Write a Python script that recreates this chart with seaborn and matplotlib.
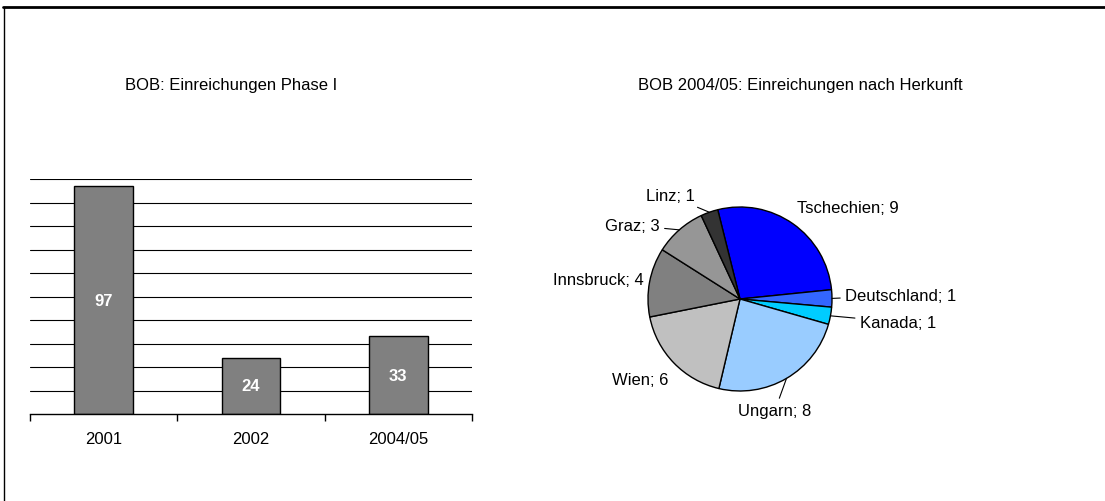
# plot.py
# BOB submissions: bar chart per year and pie chart by origin

import numpy as np
import pandas as pd
import matplotlib
matplotlib.use("Agg")
import matplotlib.pyplot as plt
from matplotlib.lines import Line2D
import seaborn as sns

# data
years = ["2001", "2002", "2004/05"]
submissions = [97, 24, 33]

origins = ["Tschechien", "Deutschland", "Kanada", "Ungarn", "Wien", "Innsbruck", "Graz", "Linz"]
origin_counts = [9, 1, 1, 8, 6, 4, 3, 1]
origin_colors = ["#0000FF", "#3366FF", "#00CCFF", "#99CCFF",
                 "#C0C0C0", "#808080", "#969696", "#333333"]

# label layout for the pie (axes data units)
label_pos = [(0.62, 1.0), (1.14, 0.04), (1.30, -0.25), (0.38, -1.21),
             (-0.78, -0.88), (-1.05, 0.21), (-0.87, 0.80), (-0.49, 1.12)]
label_ha = ["left", "left", "left", "center", "right", "right", "right", "right"]
has_leader = [False, True, True, True, False, False, True, True]

sns.set_theme(style="white")
plt.rcParams["font.family"] = ["Liberation Sans", "DejaVu Sans"]
plt.rcParams["text.color"] = "black"

W, H = 1105, 502
fig = plt.figure(figsize=(W / 100, H / 100), dpi=100)
fig.patch.set_facecolor("white")

# outer frame (top and left only)
fig.add_artist(Line2D([3 / W, 1], [1 - 8 / H, 1 - 8 / H], color="black", lw=2))
fig.add_artist(Line2D([3.5 / W, 3.5 / W], [0, 1 - 8 / H], color="black", lw=1))

# bar chart
ax = fig.add_axes([30 / W, 87 / H, 442 / W, 235 / H])
df = pd.DataFrame({"Jahr": years, "Einreichungen": submissions})
sns.barplot(data=df, x="Jahr", y="Einreichungen", color="#808080", saturation=1,
            edgecolor="black", linewidth=1, width=0.4, ax=ax)
ax.set_ylim(0, 100)
ax.set_xlim(-0.5, 2.5)
ax.set_yticks(range(10, 101, 10))
ax.yaxis.grid(True, color="black", lw=0.8)
ax.set_axisbelow(True)
ax.tick_params(axis="y", left=False, labelleft=False)
for s in ["left", "top", "right"]:
    ax.spines[s].set_visible(False)
ax.spines["bottom"].set_color("black")
ax.spines["bottom"].set_linewidth(1)
ax.set_xticks(np.arange(-0.5, 2.6, 1), minor=True)
ax.tick_params(axis="x", which="minor", bottom=True, length=5, width=1,
               color="black", direction="out")
ax.tick_params(axis="x", which="major", length=0, pad=12, labelsize=12, labelcolor="black")
ax.set_xlabel("")
ax.set_ylabel("")
ax.bar_label(ax.containers[0], label_type="center", color="white",
             fontweight="bold", fontsize=12)

fig.text(231 / W, 1 - 86 / H, "BOB: Einreichungen Phase I",
         ha="center", va="center", fontsize=12, color="black")

# pie chart
r_px = 92
box = 2.2 * r_px
ax2 = fig.add_axes([(740 - box / 2) / W, (202 - box / 2) / H, box / W, box / H])
wedges, _ = ax2.pie(origin_counts, colors=origin_colors, startangle=104,
                    counterclock=False,
                    wedgeprops=dict(edgecolor="black", linewidth=1))
ax2.set_xlim(-1.1, 1.1)
ax2.set_ylim(-1.1, 1.1)
ax2.axis("off")

for w, name, n, pos, ha, lead in zip(wedges, origins, origin_counts,
                                     label_pos, label_ha, has_leader):
    mid = np.deg2rad((w.theta1 + w.theta2) / 2)
    anchor = (np.cos(mid), np.sin(mid))
    props = dict(arrowstyle="-", color="black", lw=0.8, shrinkA=1, shrinkB=0) if lead else None
    ax2.annotate(f"{name}; {n}", xy=anchor, xytext=pos, ha=ha, va="center",
                 fontsize=12, color="black", arrowprops=props,
                 annotation_clip=False)

fig.text(800 / W, 1 - 86 / H, "BOB 2004/05: Einreichungen nach Herkunft",
         ha="center", va="center", fontsize=12, color="black")

fig.savefig("out.png", dpi=100, facecolor="white")
